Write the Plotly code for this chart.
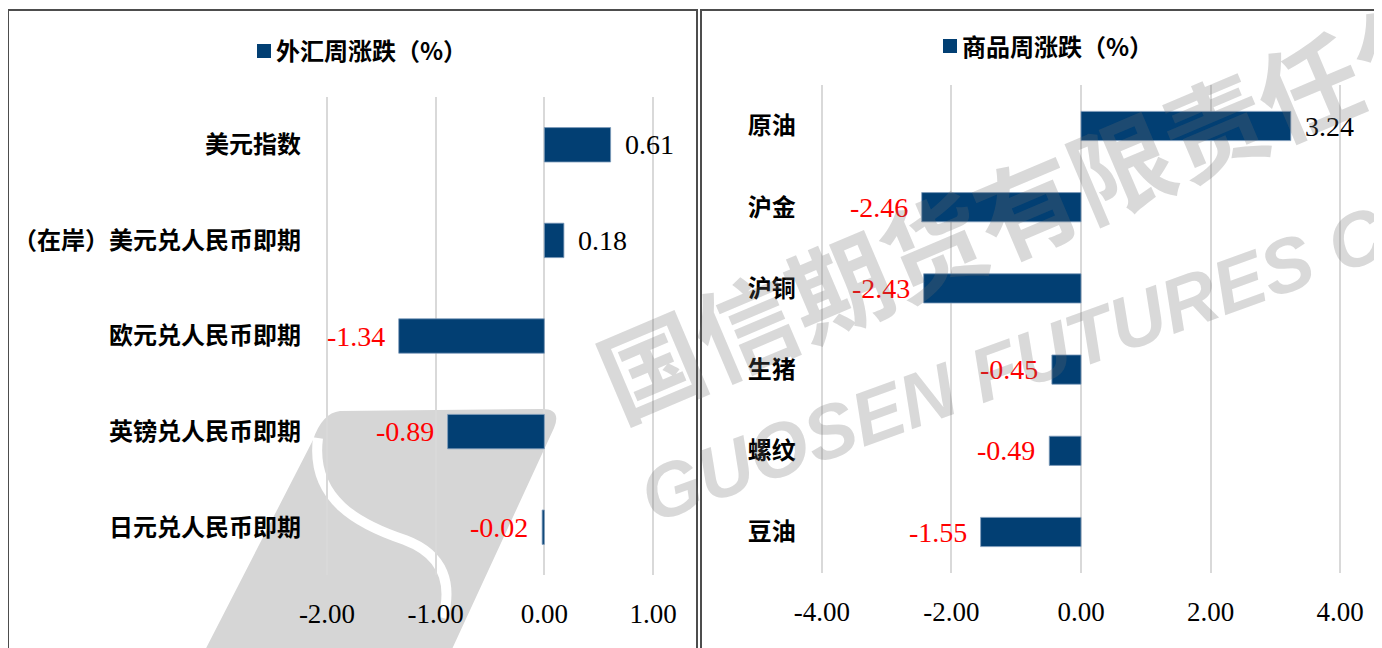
import plotly.graph_objects as go

# ---------------- data ----------------
fx_categories = ["美元指数", "（在岸）美元兑人民币即期", "欧元兑人民币即期", "英镑兑人民币即期", "日元兑人民币即期"]
fx_values = [0.61, 0.18, -1.34, -0.89, -0.02]
fx_title = "外汇周涨跌（%）"
fx_ticks = [-2, -1, 0, 1]

cm_categories = ["原油", "沪金", "沪铜", "生猪", "螺纹", "豆油"]
cm_values = [3.24, -2.46, -2.43, -0.45, -0.49, -1.55]
cm_title = "商品周涨跌（%）"
cm_ticks = [-4, -2, 0, 2, 4]

# ---------------- style ----------------
W, H = 1382, 648
OFF = 8  # page body margin
BAR = "#023F73"
GRID = "#D9D9D9"
NUMFONT = "Liberation Serif"
CJK = "Noto Sans CJK SC"


def px(x):
    return (x - OFF) / W


def py(y):
    return 1 - (y - OFF) / H


def padded(lo, hi, x0, x1, pad):
    """Extend the range slightly so edge gridlines are drawn; keep pixel scale."""
    unit = (x1 - x0) / (hi - lo)
    return [lo - pad, hi + pad], [px(x0 - pad * unit), px(x1 + pad * unit)]


fx_range, fx_dom = padded(fx_ticks[0], fx_ticks[-1], 327, 653, 0.01)
cm_range, cm_dom = padded(cm_ticks[0], cm_ticks[-1], 822, 1340, 0.02)

fig = go.Figure()

fig.add_trace(go.Bar(
    x=fx_values, y=fx_categories, orientation="h", name=fx_title,
    marker=dict(color=BAR, line=dict(color="#7F9CBB", width=0.8)),
    xaxis="x", yaxis="y", showlegend=False, hoverinfo="x+y",
))
fig.add_trace(go.Bar(
    x=cm_values, y=cm_categories, orientation="h", name=cm_title,
    marker=dict(color=BAR, line=dict(color="#7F9CBB", width=0.8)),
    xaxis="x2", yaxis="y2", showlegend=False, hoverinfo="x+y",
))

axis_common = dict(
    showgrid=True, gridcolor=GRID, gridwidth=1.5, zeroline=False,
    showline=False, ticks="", automargin=False,
    tickfont=dict(family=NUMFONT, size=27, color="#000000"),
    ticklabelstandoff=20, fixedrange=True,
)
cat_common = dict(
    type="category", autorange="reversed", showgrid=False, zeroline=False,
    showline=False, ticks="", automargin=False,
    tickfont=dict(family=CJK, size=24, color="#000000", weight="bold"),
    ticklabelstandoff=24, fixedrange=True,
)

fig.update_layout(
    width=W, height=H,
    template="none",
    margin=dict(l=0, r=0, t=0, b=0, autoexpand=False),
    paper_bgcolor="white", plot_bgcolor="rgba(0,0,0,0)",
    bargap=0.64,
    xaxis=dict(domain=fx_dom, range=fx_range, tickvals=fx_ticks,
               ticktext=[f"{v:.2f}" for v in fx_ticks], anchor="y", **axis_common),
    yaxis=dict(domain=[py(575), py(97)], anchor="x", **cat_common),
    xaxis2=dict(domain=cm_dom, range=cm_range, tickvals=cm_ticks,
                ticktext=[f"{v:.2f}" for v in cm_ticks], anchor="y2", **axis_common),
    yaxis2=dict(domain=[py(572.6), py(85.4)], anchor="x2", **cat_common),
)

annotations = []
# data labels
for cats, vals, xr, yr in [(fx_categories, fx_values, "x", "y"),
                           (cm_categories, cm_values, "x2", "y2")]:
    for c, v in zip(cats, vals):
        pos = v >= 0
        annotations.append(dict(
            x=v, y=c, xref=xr, yref=yr, text=f"{v:.2f}", showarrow=False,
            xanchor="left" if pos else "right", xshift=12 if pos else -12,
            font=dict(family=NUMFONT, size=28, color="#000000" if pos else "#FF0000"),
        ))

# titles (legend-like)
shapes = []
for title, sq_x, text_x, y in [(fx_title, 257, 274, 50), (cm_title, 943, 960, 45)]:
    shapes.append(dict(type="rect", xref="paper", yref="paper",
                       x0=px(sq_x), x1=px(sq_x + 14), y0=py(y + 8), y1=py(y - 6),
                       fillcolor=BAR, line=dict(width=0)))
    annotations.append(dict(
        x=px(text_x), y=py(y), xref="paper", yref="paper", text=title,
        showarrow=False, xanchor="left", yanchor="middle",
        font=dict(family=CJK, size=24, color="#000000", weight="bold"),
    ))

# panel borders
shapes.append(dict(type="rect", xref="paper", yref="paper",
                   x0=px(8), x1=px(697), y0=py(670), y1=py(10),
                   line=dict(color="#4D4D4D", width=2), fillcolor="rgba(0,0,0,0)"))
shapes.append(dict(type="rect", xref="paper", yref="paper",
                   x0=px(701), x1=px(1400), y0=py(670), y1=py(10),
                   line=dict(color="#4D4D4D", width=2), fillcolor="rgba(0,0,0,0)"))

# watermark logo (gray slanted block with white S curve)
logo = (f"M {px(340)},{py(411)} L {px(542)},{py(409)} "
        f"Q {px(562)},{py(409)} {px(554)},{py(428)} "
        f"L {px(447)},{py(660)} L {px(200)},{py(660)} "
        f"L {px(313)},{py(440)} Q {px(322)},{py(413)} {px(340)},{py(411)} Z")
shapes.append(dict(type="path", xref="paper", yref="paper", path=logo,
                   fillcolor="#D6D6D6", line=dict(width=0), layer="below"))
s_curve = (f"M {px(318)},{py(438)} C {px(310)},{py(500)} {px(360)},{py(525)} {px(405)},{py(540)} "
           f"C {px(445)},{py(555)} {px(452)},{py(585)} {px(443)},{py(618)}")
shapes.append(dict(type="path", xref="paper", yref="paper", path=s_curve,
                   line=dict(color="white", width=10), layer="below"))

# watermark text
annotations.append(dict(
    x=px(1072), y=py(182), xref="paper", yref="paper", text="国信期货有限责任公司",
    showarrow=False, textangle=-23, xanchor="center", yanchor="middle",
    font=dict(family=CJK, size=102, color="rgba(110,110,110,0.26)", weight="bold"),
))
annotations.append(dict(
    x=px(1040), y=py(354), xref="paper", yref="paper", text="<i>GUOSEN FUTURES CO</i>",
    showarrow=False, textangle=-20, xanchor="center", yanchor="middle",
    font=dict(family="Liberation Sans", size=76, color="rgba(110,110,110,0.26)", weight="bold"),
))

fig.update_layout(annotations=annotations, shapes=shapes)

fig.write_html("out.html")
